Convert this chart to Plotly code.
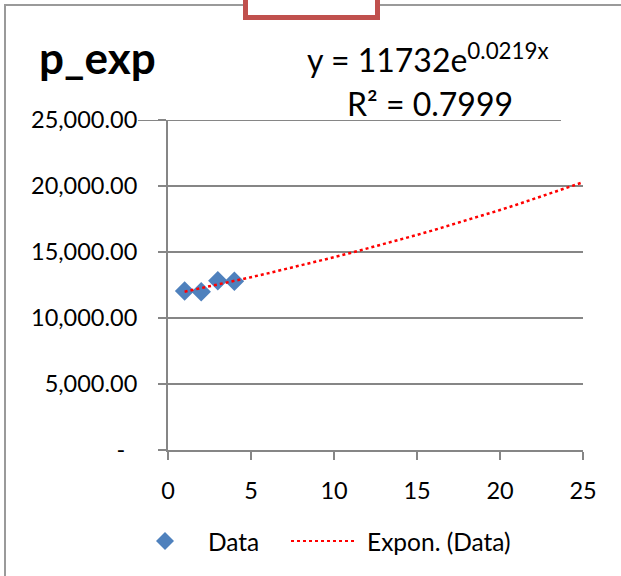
import math
import plotly.graph_objects as go

# ---- data ----
x_data = [1, 2, 3, 4]
y_data = [12050, 11980, 12820, 12780]
fit_a = 11732
fit_b = 0.0219
fit_r2 = 0.7999
trend_x = list(range(1, 26))
trend_y = [fit_a * math.exp(fit_b * x) for x in trend_x]
x_ticks = [0, 5, 10, 15, 20, 25]
y_ticks = [0, 5000, 10000, 15000, 20000, 25000]
y_ticktext = ["-\u00a0\u00a0", "5,000.00", "10,000.00", "15,000.00", "20,000.00", "25,000.00"]

W, H = 621, 576
L, R, T, B = 168, 38, 120, 126
PW, PH = W - L - R, H - T - B

def px(x):
    return (x - L) / PW

def py(y):
    return (H - B - y) / PH

FONT = "Lato"
GRAY = "#868686"

fig = go.Figure()
fig.add_trace(go.Scatter(x=x_data, y=y_data, mode="markers", name="Data",
                         marker=dict(symbol="diamond", size=15, color="#4F81BD"),
                         showlegend=False))
fig.add_trace(go.Scatter(x=trend_x, y=trend_y, mode="lines", name="Expon. (Data)",
                         line=dict(color="#FF0000", width=2.5, dash="dot"),
                         showlegend=False))

shapes = []
# gridlines
for v in y_ticks[1:-1]:
    shapes.append(dict(type="line", xref="x domain", yref="y", x0=0, x1=1, y0=v, y1=v,
                       line=dict(color=GRAY, width=2), layer="below"))
shapes.append(dict(type="line", xref="paper", yref="y", x0=px(138), x1=px(561),
                   y0=y_ticks[-1], y1=y_ticks[-1], line=dict(color=GRAY, width=2), layer="below"))
# outer border
shapes.append(dict(type="path", xref="paper", yref="paper",
                   path=f"M {px(5)},{py(600)} L {px(5)},{py(5)} L {px(640)},{py(5)}",
                   line=dict(color="#9A9A9A", width=2)))
# red box
shapes.append(dict(type="rect", xref="paper", yref="paper",
                   x0=px(245.5), x1=px(377.5), y0=py(17.5), y1=py(-10),
                   line=dict(color="#C0504D", width=5), fillcolor="white"))
# legend symbols
shapes.append(dict(type="path", xref="paper", yref="paper",
                   path=f"M {px(156)},{py(541)} L {px(165)},{py(532)} L {px(174)},{py(541)} L {px(165)},{py(550)} Z",
                   fillcolor="#4F81BD", line=dict(width=0)))
shapes.append(dict(type="line", xref="paper", yref="paper",
                   x0=px(291), x1=px(357), y0=py(541), y1=py(541),
                   line=dict(color="#FF0000", width=2, dash="dot")))

annotations = [
    dict(text="<b>p_exp</b>", xref="paper", yref="paper", x=px(37), y=py(57),
         xanchor="left", yanchor="middle", showarrow=False, font=dict(size=44, color="black", family=FONT)),
    dict(text=f"y = {fit_a}e<sup>{fit_b}x</sup>", xref="paper", yref="paper", x=px(428), y=py(58),
         xanchor="center", yanchor="middle", showarrow=False, font=dict(size=32, color="black", family=FONT)),
    dict(text=f"R² = {fit_r2}", xref="paper", yref="paper", x=px(430), y=py(103),
         xanchor="center", yanchor="middle", showarrow=False, font=dict(size=32, color="black", family=FONT)),
    dict(text="Data", xref="paper", yref="paper", x=px(206), y=py(541),
         xanchor="left", yanchor="middle", showarrow=False, font=dict(size=24.5, color="black", family=FONT)),
    dict(text="Expon. (Data)", xref="paper", yref="paper", x=px(365), y=py(541),
         xanchor="left", yanchor="middle", showarrow=False, font=dict(size=24.5, color="black", family=FONT)),
]

fig.update_layout(
    width=W, height=H, margin=dict(l=L, r=R, t=T, b=B),
    paper_bgcolor="white", plot_bgcolor="white",
    showlegend=False, shapes=shapes, annotations=annotations,
    font=dict(family=FONT, size=23.5, color="black"),
    xaxis=dict(range=[0, 25], tickvals=x_ticks, showgrid=False, zeroline=False,
               showline=True, linecolor=GRAY, linewidth=2, ticks="outside", ticklen=8,
               tickcolor=GRAY, tickwidth=2, ticklabelstandoff=11,
               tickfont=dict(size=23.5, family=FONT, color="black")),
    yaxis=dict(range=[0, 25000], tickvals=y_ticks, ticktext=y_ticktext, showgrid=False,
               zeroline=False, showline=True, linecolor=GRAY, linewidth=2,
               ticks="outside", ticklen=8, tickcolor=GRAY, tickwidth=2, ticklabelstandoff=16,
               tickfont=dict(size=23.5, family=FONT, color="black")),
)

fig.write_html("out.html")
